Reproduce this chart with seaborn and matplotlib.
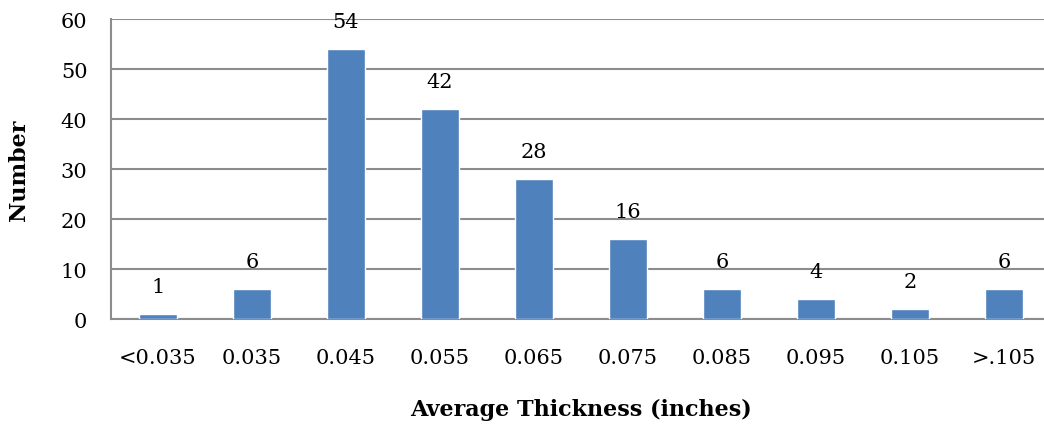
import matplotlib
matplotlib.use("Agg")
import matplotlib.pyplot as plt
import seaborn as sns
import pandas as pd

categories = ["<0.035", "0.035", "0.045", "0.055", "0.065", "0.075", "0.085", "0.095", "0.105", ">.105"]
counts = [1, 6, 54, 42, 28, 16, 6, 4, 2, 6]

sns.set_theme(style="white")
plt.rcParams["font.family"] = ["DejaVu Serif"]

grid_gray = "#8c8c8c"
bar_blue = "#4f81bd"

df = pd.DataFrame({"Thickness": categories, "Number": counts})

fig = plt.figure(figsize=(10.44, 4.27), dpi=100)
ax = fig.add_axes([111 / 1044, 1 - 320 / 427, 940 / 1044, 300 / 427])

sns.barplot(data=df, x="Thickness", y="Number", color=bar_blue, width=0.4,
            saturation=1, ax=ax, zorder=3)

ax.set_ylim(0, 60)
ax.set_xlim(-0.5, len(categories) - 0.5)
ax.set_yticks(range(0, 61, 10))
ax.yaxis.grid(True, color=grid_gray, linewidth=1.5, zorder=0)
ax.set_axisbelow(True)

for s in ["top", "right"]:
    ax.spines[s].set_visible(False)
for s in ["left", "bottom"]:
    ax.spines[s].set_color(grid_gray)
    ax.spines[s].set_linewidth(1.5)

# category ticks sit between bars, labels centred under each bar
ax.set_xticks([i - 0.5 for i in range(len(categories))], minor=False)
ax.set_xticklabels([])
ax.set_xticks(range(len(categories)), minor=True)
ax.set_xticklabels(categories, minor=True)
ax.tick_params(axis="x", which="major", length=8, width=1.5, color=grid_gray, direction="out")
ax.tick_params(axis="x", which="minor", length=0, pad=21, labelsize=15, labelcolor="black")
ax.tick_params(axis="y", length=8, width=1.5, color=grid_gray, direction="out",
               labelsize=15, pad=9, labelcolor="black")

for i, v in enumerate(counts):
    ax.annotate(str(v), (i, v), xytext=(0, 13), textcoords="offset points",
                ha="center", va="bottom", fontsize=15, color="black")

ax.set_xlabel("Average Thickness (inches)", fontsize=16, fontweight="bold", labelpad=22,
              color="black")
ax.set_ylabel("Number", fontsize=16, fontweight="bold", labelpad=22, color="black")

fig.savefig("out.png", dpi=100)
